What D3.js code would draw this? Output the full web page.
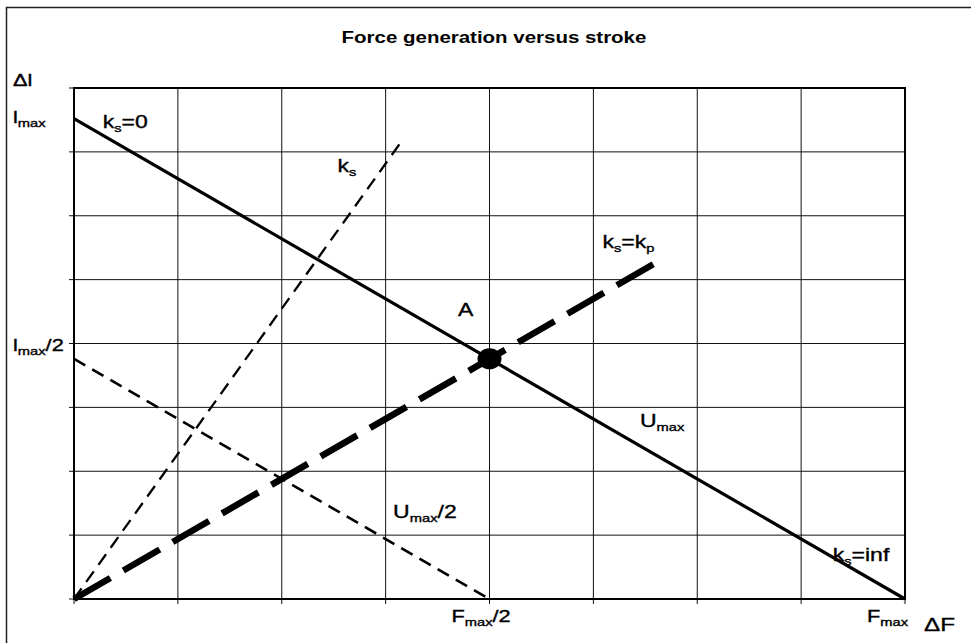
<!DOCTYPE html>
<html>
<head>
<meta charset="utf-8">
<script src="https://cdn.jsdelivr.net/npm/d3@7"></script>
<style>
  body { margin: 0; background: #fff; }
  text { font-family: "Liberation Sans", Arial, sans-serif; fill: #000; }
</style>
</head>
<body>
<svg id="drawing_region"></svg>
<script>
// values in units of F/Fmax and l/lmax
const uMaxF = [0, 0.5, 1];          // k_s=0 ... k_s=inf
const uMaxL = [1, 0.5, 0];
const uHalfF = [0, 0.5];            // U_max/2
const uHalfL = [0.5, 0];
const ksF = [0, 0.395];             // k_s
const ksL = [0, 0.955];
const kpF = [0, 0.7];               // k_s=k_p
const kpL = [0, 0.7];
const pointA = [0.5, 0.5];

const xGrid = [0, 0.125, 0.25, 0.375, 0.5, 0.625, 0.75, 0.875, 1];
const yGrid = [0, 0.133, 0.266, 0.399, 0.532, 0.665, 0.798, 0.931, 1.064];
const xTickValues = [0.5, 1];
const xTickLabels = [['F', 'max', '/2'], ['F', 'max', '']];
const yTickValues = [1, 0.5];
const yTickLabels = [['l', 'max', ''], ['l', 'max', '/2']];

const config = {
    width: 971,
    height: 643,
    margin: {top: 88, right: 66, bottom: 44, left: 74},
    title: 'Force generation versus stroke',
    stretch: 1.28   // text in the original is wider than Arial
};

const svg = d3.select('#drawing_region')
    .attr('width', config.width)
    .attr('height', config.height);

const innerW = config.width - config.margin.left - config.margin.right;
const innerH = config.height - config.margin.top - config.margin.bottom;

const x = d3.scaleLinear().domain([0, 1]).range([config.margin.left, config.margin.left + innerW]);
const y = d3.scaleLinear().domain([0, yGrid[yGrid.length - 1]]).range([config.margin.top + innerH, config.margin.top]);

// outer frame (left and top edges show in the picture)
svg.append('path')
    .attr('d', `M6.5,${config.height} V7.5 H${config.width}`)
    .attr('fill', 'none')
    .attr('stroke', '#222')
    .attr('stroke-width', 1.5);

svg.append('text')
    .attr('transform', `translate(494,43) scale(${config.stretch},1)`)
    .attr('text-anchor', 'middle')
    .style('font-size', '16px')
    .style('font-weight', 'bold')
    .text(config.title);

// grid
const grid = svg.append('g');
grid.selectAll('.vgrid')
    .data(xGrid)
    .join('line')
    .attr('x1', d => x(d)).attr('x2', d => x(d))
    .attr('y1', y.range()[0] + 5).attr('y2', y.range()[1])
    .attr('stroke', '#111')
    .attr('stroke-width', 1);
grid.selectAll('.hgrid')
    .data(yGrid)
    .join('line')
    .attr('y1', d => y(d)).attr('y2', d => y(d))
    .attr('x1', x.range()[0] - 5).attr('x2', x.range()[1])
    .attr('stroke', '#111')
    .attr('stroke-width', 1);

// plot border
svg.append('rect')
    .attr('x', x(0)).attr('y', y.range()[1])
    .attr('width', innerW).attr('height', innerH)
    .attr('fill', 'none')
    .attr('stroke', '#000')
    .attr('stroke-width', 2);

const line = d3.line().x(d => x(d[0])).y(d => y(d[1]));
const pts = (fs, ls) => fs.map((f, i) => [f, ls[i]]);

svg.append('path')
    .attr('d', line(pts(ksF, ksL)))
    .attr('fill', 'none').attr('stroke', '#000')
    .attr('stroke-width', 2.3)
    .attr('stroke-dasharray', '13,8');

svg.append('path')
    .attr('d', line(pts(uHalfF, uHalfL)))
    .attr('fill', 'none').attr('stroke', '#000')
    .attr('stroke-width', 2.6)
    .attr('stroke-dasharray', '13,8');

svg.append('path')
    .attr('d', line(pts(kpF, kpL)))
    .attr('fill', 'none').attr('stroke', '#000')
    .attr('stroke-width', 6.5)
    .attr('stroke-dasharray', '42,15');

svg.append('path')
    .attr('d', line(pts(uMaxF, uMaxL)))
    .attr('fill', 'none').attr('stroke', '#000')
    .attr('stroke-width', 3.2);

svg.append('ellipse')
    .attr('cx', x(pointA[0])).attr('cy', y(pointA[1]))
    .attr('rx', 12).attr('ry', 10.5)
    .attr('fill', '#000');

// text with subscript, stretched sideways like the original
function label(px, py, parts, size) {
    const t = svg.append('text')
        .attr('transform', `translate(${px},${py}) scale(${config.stretch},1)`)
        .style('font-size', size + 'px')
        .attr('stroke', '#000')
        .attr('stroke-width', 0.35);
    t.append('tspan').text(parts[0]);
    if (parts[1]) {
        t.append('tspan').attr('dy', 4).style('font-size', '11.5px').text(parts[1]);
    }
    if (parts[2]) {
        t.append('tspan').attr('dy', parts[1] ? -4 : 0).text(parts[2]);
    }
    return t;
}

// axis labels
label(13, 86, ['Δl'], 17);
label(924, 631, ['ΔF'], 19);
yTickLabels.forEach((p, i) => label(13, y(yTickValues[i]) + (i === 0 ? 4 : -8), p, 17));
xTickLabels.forEach((p, i) => label(x(xTickValues[i]) - 38, 622, p, 17));

// curve annotations
label(x(0.0345), y(0.98), ['k', 's', '=0'], 18);
label(x(0.317), y(0.89), ['k', 's', ''], 18);
label(x(0.636), y(0.73), ['k', 's', '=k'], 18).append('tspan').attr('dy', 4).style('font-size', '11.5px').text('p');
label(x(0.462), y(0.59), ['A'], 18);
label(x(0.681), y(0.358), ['U', 'max', ''], 18);
label(x(0.384), y(0.168), ['U', 'max', '/2'], 18);
label(x(0.913), y(0.08), ['k', 's', '=inf'], 18);
</script>
</body>
</html>
